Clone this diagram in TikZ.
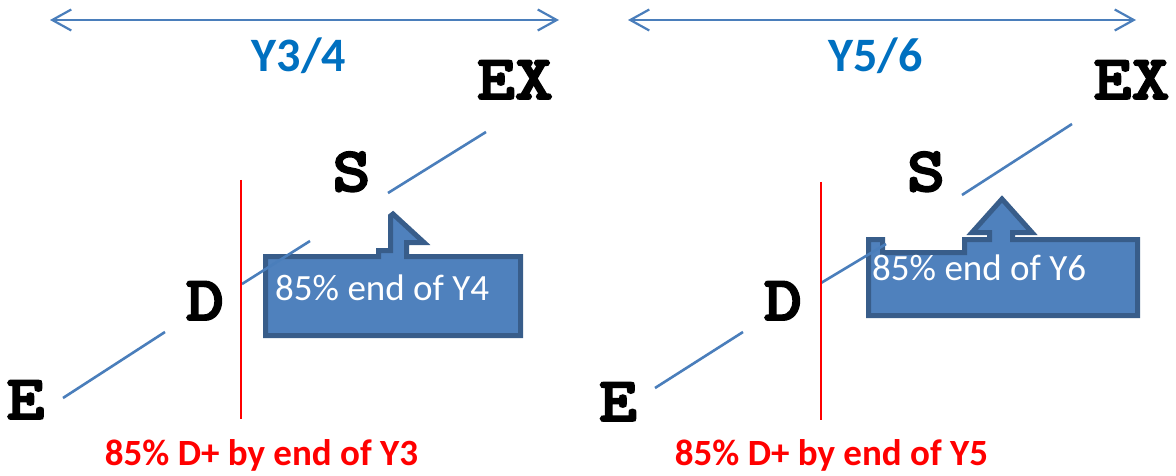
\documentclass[tikz,border=0pt]{standalone}
\usepackage{fontspec}
\setmainfont{Carlito}
\newfontfamily\courbold{lmmonolt10-bold.otf}[FakeStretch=1.15,FakeBold=3]
\usetikzlibrary{arrows.meta}
\definecolor{lineblue}{HTML}{4A7EBB}
\definecolor{calfill}{HTML}{4F81BD}
\definecolor{caledge}{HTML}{385D8A}
\definecolor{yblue}{HTML}{0070C0}
\definecolor{goalred}{HTML}{FF0000}
\begin{document}
\begin{tikzpicture}[x=1pt,y=-1pt,
  letter/.style={font=\fontsize{63}{63}\courbold, inner sep=0pt, anchor=base},
  yearlbl/.style={font=\bfseries\fontsize{48}{48}\selectfont, text=yblue, inner sep=0pt, anchor=base},
  goallbl/.style={font=\bfseries\fontsize{37}{37}\selectfont, text=goalred, inner sep=0pt, anchor=base},
  calltext/.style={font=\fontsize{37}{37}\selectfont, text=white, inner sep=0pt, anchor=base west},
  span/.style={draw=lineblue, line width=2.2pt,
    {Straight Barb[length=19pt,width=21pt]}-{Straight Barb[length=19pt,width=21pt]}},
  track/.style={draw=lineblue, line width=2.6pt},
  cutoff/.style={draw=goalred, line width=1.3pt},
  callout/.style={fill=calfill, draw=caledge, line width=5pt, line join=miter}]
\useasboundingbox (0,0) rectangle (1176,476);

% ---------- span arrows ----------
\coordinate (s1l) at (50,20);   \coordinate (s1r) at (559,20);
\coordinate (s2l) at (628,20);  \coordinate (s2r) at (1136,20);
\draw[span] (s1l) -- (s1r);
\draw[span] (s2l) -- (s2r);

\node[yearlbl] (y34) at (299,72) {Y3/4};
\node[yearlbl] (y56) at (875.5,72) {Y5/6};

% ---------- callouts ----------
\draw[callout] (265.5,256.5) -- (378.5,256.5) -- (378.5,250.5) -- (390.5,250.5)
  -- (390.5,216) -- (393,214) -- (424,242.5) -- (406.5,242.5) -- (406.5,256.5)
  -- (520.5,256.5) -- (520.5,335.5) -- (265.5,335.5) -- cycle;
\node[calltext] (c4) at (275,300) {85\% end of Y4};

\draw[callout] (868.5,239.5) -- (882.5,239.5) -- (882.5,252.5) -- (964.5,252.5)
  -- (964.5,239.5) -- (989.5,239.5) -- (989.5,232.5) -- (972,232.5) -- (1002,199)
  -- (1032,232.5) -- (1012.5,232.5) -- (1012.5,239.5) -- (1137.5,239.5)
  -- (1137.5,315.5) -- (868.5,315.5) -- cycle;
\node[calltext] (c6) at (872,280) {85\% end of Y6};

% ---------- left stage track ----------
\node[letter] (e1)  at (25.5,419) {E};
\node[letter] (d1)  at (205,320) {D};
\node[letter] (st1) at (351.5,191) {S};
\node[letter] (ex1) at (515,99) {EX};

\coordinate (a1) at (63,398);   \coordinate (b1) at (165,332);
\coordinate (a2) at (242,284);  \coordinate (b2) at (310,241);
\coordinate (a3) at (388,193);  \coordinate (b3) at (486,132);
\draw[track] (a1) -- (b1);
\draw[track] (a2) -- (b2);
\draw[track] (a3) -- (b3);

\coordinate (r1t) at (241,180); \coordinate (r1b) at (241,419);
\draw[cutoff] (r1t) -- (r1b);
\node[goallbl] (g3) at (261.5,465) {85\% D+ by end of Y3};

% ---------- right stage track ----------
\node[letter] (e2)  at (618,421) {E};
\node[letter] (d2)  at (783,320) {D};
\node[letter] (st2) at (926,191) {S};
\node[letter] (ex2) at (1131.5,99) {EX};

\coordinate (a4) at (655,388);  \coordinate (b4) at (743,332);
\coordinate (a5) at (821,283);  \coordinate (b5) at (886,244);
\coordinate (a6) at (962,195);  \coordinate (b6) at (1072,124);
\draw[track] (a4) -- (b4);
\draw[track] (a5) -- (b5);
\draw[track] (a6) -- (b6);

\coordinate (r2t) at (821,182); \coordinate (r2b) at (821,420);
\draw[cutoff] (r2t) -- (r2b);
\node[goallbl] (g5) at (831.5,465) {85\% D+ by end of Y5};
\end{tikzpicture}
\end{document}
